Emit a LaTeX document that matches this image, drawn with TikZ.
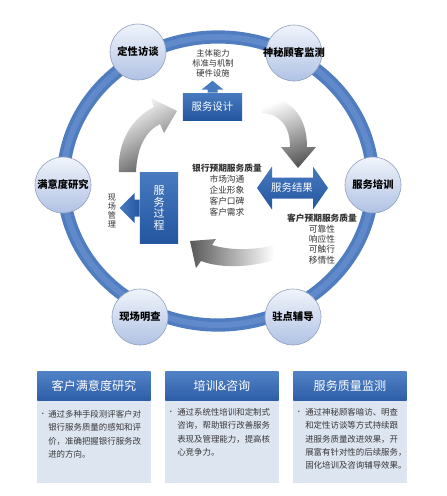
\documentclass[tikz,border=0pt]{standalone}
\usepackage{fontspec}
\setmainfont{Noto Sans CJK SC}
\usepackage{tikz}
\usetikzlibrary{positioning,calc,shapes.geometric}
\usepackage{xcolor}

\definecolor{ringblue}{RGB}{80,124,192}
\definecolor{ringlight}{RGB}{96,138,202}
\definecolor{boxtop}{RGB}{72,122,192}
\definecolor{boxbot}{RGB}{36,86,160}
\definecolor{circtop}{RGB}{240,244,251}
\definecolor{circbot}{RGB}{176,194,228}
\definecolor{circline}{RGB}{140,156,186}
\definecolor{headtop}{RGB}{82,130,198}
\definecolor{headbot}{RGB}{44,94,168}
\definecolor{panelbg}{RGB}{221,229,241}
\definecolor{arrowdark}{RGB}{88,88,88}

\begin{document}
\begin{tikzpicture}[
    x=0.025cm, y=-0.025cm,
    method/.style={circle, draw=circline, top color=circtop, bottom color=circbot, minimum size=1.4cm, inner sep=0},
    methodtext/.style={font=\bfseries\fontsize{7.3}{8}\selectfont},
    bluebox/.style={rectangle, top color=boxtop, bottom color=boxbot, text=white, inner sep=0, font=\fontsize{7.4}{8.3}\selectfont},
    note/.style={align=center, inner sep=0, text=black!80},
    header/.style={rectangle, top color=headtop, bottom color=headbot, text=white, minimum width=2.825cm, minimum height=0.725cm, inner sep=0, font=\fontsize{8.6}{10}\selectfont},
    panel/.style={rectangle, fill=panelbg, minimum width=2.825cm, minimum height=2.075cm, inner sep=0},
    bodytext/.style={anchor=north west, align=left, inner sep=0, text=black!78, font=\fontsize{6}{9.46}\selectfont},
    bulletdot/.style={inner sep=0, text=black!70, font=\fontsize{5}{6}\selectfont}
]
    \useasboundingbox[fill=white] (0,0) rectangle (447,496);

    % Outer ring
    \coordinate (ringc) at (218,181);
    \draw[line width=0.33cm, ringblue] (ringc) ellipse [x radius=3.87cm, y radius=3.6cm];
    \draw[line width=0.15cm, ringlight] (ringc) ellipse [x radius=3.87cm, y radius=3.6cm];

    % Methods on the ring
    \node[method, label={[methodtext]center:定性访谈}] (interview) at (138,52) {};
    \node[method, label={[methodtext]center:神秘顾客监测}] (mystery) at (294,53) {};
    \node[method, label={[methodtext]center:满意度研究}] (survey) at (63,185) {};
    \node[method, label={[methodtext]center:服务培训}] (training) at (373,185) {};
    \node[method, label={[methodtext]center:现场明查}] (inspect) at (140,317) {};
    \node[method, label={[methodtext]center:驻点辅导}] (resident) at (293,317) {};

    % Service design
    \node[bluebox, minimum width=1.475cm, minimum height=0.675cm] (design) at (212.5,106.5) {服务设计};
    \shade[top color=boxtop, bottom color=boxtop] ($(design.north)+(-5,0)$) -- ++(0,-3) -- ++(-6,0)
        -- ($(design.north)+(0,-12)$) -- ($(design.north)+(11,-3)$) -- ++(-6,0) -- ($(design.north)+(5,0)$) -- cycle;
    \node[note, font=\fontsize{5.9}{7.1}\selectfont] (designnote) at (213,63) {主体能力\\标准与机制\\硬件设施};

    % Service process
    \node[bluebox, minimum width=0.95cm, minimum height=1.75cm, align=center, font=\fontsize{7.8}{8.4}\selectfont] (process) at (159,208) {服\\务\\过\\程};
    \shade[left color=boxtop, right color=boxbot] ($(process.west)+(0,-8.5)$) -- ++(-5,0) -- ++(0,-6.5)
        -- ($(process.west)+(-20,0)$) -- ($(process.west)+(-5,15)$) -- ++(0,-6.5) -- ($(process.west)+(0,8.5)$) -- cycle;
    \node[note, font=\fontsize{5.8}{6.4}\selectfont] (processnote) at (112,211) {现\\场\\管\\理};

    % Service result
    \node[inner sep=0] (result) at (292,188) {};
    \shade[top color=boxtop, bottom color=boxbot] ($(result)+(-35,0)$) -- ($(result)+(-20,-21.5)$) -- ($(result)+(-20,-10.5)$)
        -- ($(result)+(21,-10.5)$) -- ($(result)+(21,-21.5)$) -- ($(result)+(36,0)$) -- ($(result)+(21,21.5)$)
        -- ($(result)+(21,10.5)$) -- ($(result)+(-20,10.5)$) -- ($(result)+(-20,21.5)$) -- cycle;
    \node[text=white, inner sep=0, font=\fontsize{7.4}{8.3}\selectfont] (resulttext) at (result) {服务结果};

    \node[note, font=\fontsize{6.2}{7.8}\selectfont] (bankq) at (227,190) {\textbf{银行预期服务质量}\\市场沟通\\企业形象\\客户口碑\\客户需求};
    \node[note, font=\fontsize{6.2}{7.4}\selectfont] (clientq) at (322,239) {\textbf{客户预期服务质量}\\可靠性\\响应性\\可触行\\移情性};

    % Cycle arrows
    \shade[left color=white, right color=arrowdark, shading angle=30]
        (119,172) .. controls (117,142) and (132,118) .. (154,107) -- (151,98) -- (177,111) -- (164,133) -- (160,124)
        .. controls (146,131) and (137,147) .. (136,172) -- cycle;
    \shade[top color=white, bottom color=arrowdark, shading angle=20]
        (262,97) .. controls (290,97) and (307,115) .. (307,147) -- (316,147) -- (298,168) -- (281,147) -- (290,147)
        .. controls (290,126) and (280,114) .. (262,113) -- cycle;
    \shade[left color=arrowdark, right color=white]
        (274,245) .. controls (252,251) and (228,250) .. (212,245) -- (216,239) -- (190,241) -- (196,268) -- (201,261)
        .. controls (222,269) and (252,267) .. (274,260) -- cycle;

    % Bottom panels
    \foreach \i/\x in {1/94, 2/222, 3/350} {
        \node[panel] (panel\i) at (\x,441.5) {};
    }
    \node[header] (head1) at (94,386) {客户满意度研究};
    \node[header] (head2) at (222,386) {培训\&咨询};
    \node[header] (head3) at (350,386) {服务质量监测};

    \node[bulletdot] (dot1) at (43,415) {•};
    \node[bodytext] (body1) at (48,410) {通过多种手段测评客户对\\银行服务质量的感知和评\\价，准确把握银行服务改\\进的方向。};
    \node[bulletdot] (dot2) at (171,413) {•};
    \node[bodytext] (body2) at (177,408) {通过系统性培训和定制式\\咨询，帮助银行改善服务\\表现及管理能力，提高核\\心竞争力。};
    \node[bulletdot] (dot3) at (299,413) {•};
    \node[bodytext] (body3) at (305,408) {通过神秘顾客暗访、明查\\和定性访谈等方式持续跟\\进服务质量改进效果，开\\展富有针对性的后续服务，\\固化培训及咨询辅导效果。};
\end{tikzpicture}
\end{document}
